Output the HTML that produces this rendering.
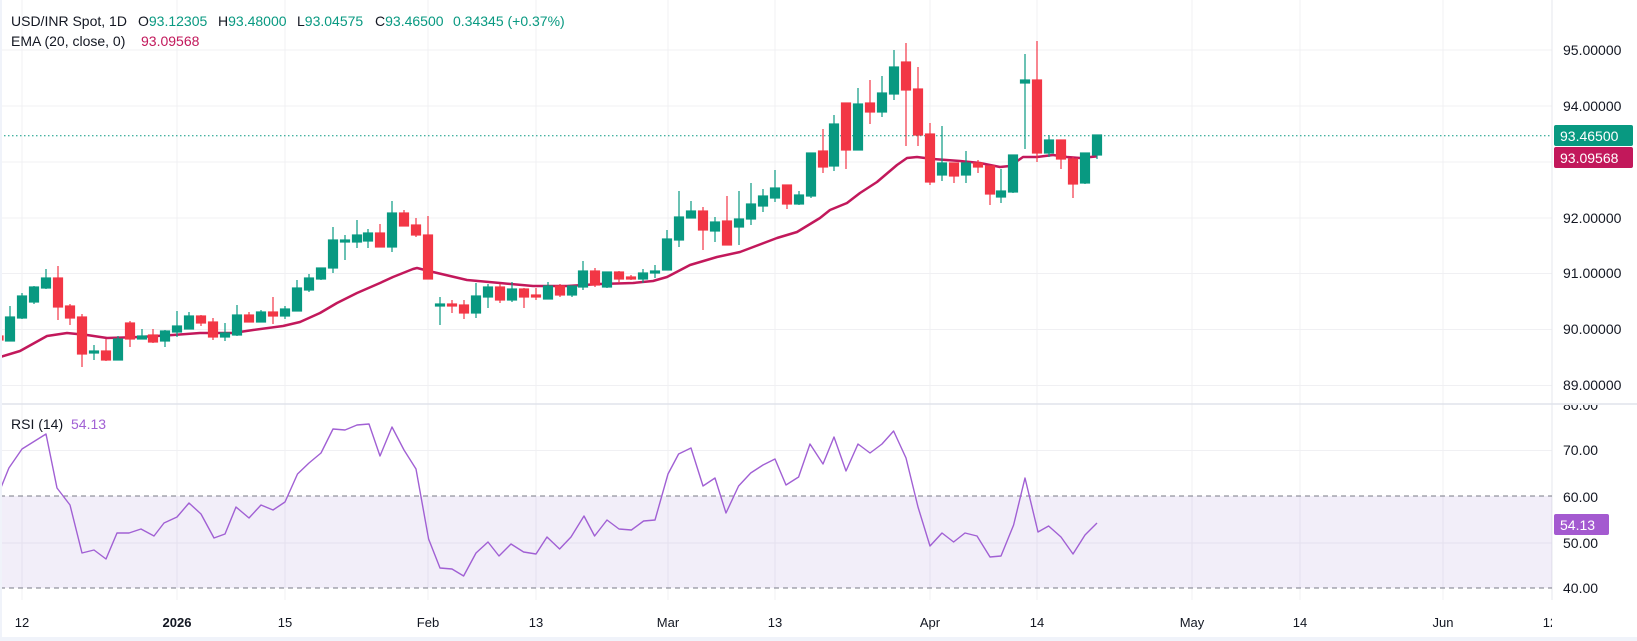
<!DOCTYPE html>
<html><head><meta charset="utf-8"><style>
html,body{margin:0;padding:0;background:#fff;}
body{width:1637px;height:641px;overflow:hidden;position:relative;font-family:"Liberation Sans",sans-serif;}
svg{position:absolute;left:0;top:0;}
.t{font-family:"Liberation Sans",sans-serif;}
</style></head><body>
<svg width="1637" height="641" viewBox="0 0 1637 641" xmlns="http://www.w3.org/2000/svg">
<rect x="0" y="0" width="1637" height="641" fill="#fff"/>
<g stroke="#f0f0f3" stroke-width="1">
<line x1="22" y1="0" x2="22" y2="600"/><line x1="177" y1="0" x2="177" y2="600"/><line x1="285" y1="0" x2="285" y2="600"/>
<line x1="428" y1="0" x2="428" y2="600"/><line x1="536" y1="0" x2="536" y2="600"/><line x1="668" y1="0" x2="668" y2="600"/>
<line x1="775" y1="0" x2="775" y2="600"/><line x1="930" y1="0" x2="930" y2="600"/><line x1="1037" y1="0" x2="1037" y2="600"/>
<line x1="1192" y1="0" x2="1192" y2="600"/><line x1="1300" y1="0" x2="1300" y2="600"/><line x1="1443" y1="0" x2="1443" y2="600"/>
<line x1="0" y1="50" x2="1552" y2="50"/><line x1="0" y1="106" x2="1552" y2="106"/><line x1="0" y1="162" x2="1552" y2="162"/>
<line x1="0" y1="218" x2="1552" y2="218"/><line x1="0" y1="273.5" x2="1552" y2="273.5"/><line x1="0" y1="329.5" x2="1552" y2="329.5"/>
<line x1="0" y1="385.5" x2="1552" y2="385.5"/>
<line x1="0" y1="450.5" x2="1552" y2="450.5"/><line x1="0" y1="543" x2="1552" y2="543"/>
</g>
<line x1="1552" y1="0" x2="1552" y2="600" stroke="#e6e7ec"/>
<line x1="0" y1="404" x2="1637" y2="404" stroke="#e0e3eb" stroke-width="1.5"/>
<rect x="0" y="496" width="1552" height="92" fill="#7e57c2" fill-opacity="0.1"/>
<line x1="0" y1="496" x2="1552" y2="496" stroke="#787b86" stroke-dasharray="5,4"/>
<line x1="0" y1="588" x2="1552" y2="588" stroke="#787b86" stroke-dasharray="5,4"/>
<line x1="0" y1="135.7" x2="1552" y2="135.7" stroke="#089981" stroke-dasharray="1.5,2.5"/>
<polyline fill="none" stroke="#c2185b" stroke-width="2.5" stroke-linejoin="round" points="0,357 20,351 47,336 67,333 87,335 107,338 140,337 173,335 200,333 233,333 253,330 283,326 300,322 320,313 337,303 357,293 380,283 393,277 413,269 417,268 433,272 467,280 500,283 533,286 567,286 600,284 633,283 653,281 667,277 690,265 717,257 740,252 777,238 797,232 820,218 830,210 847,203 860,193 877,182 897,165 907,158 917,157 933,159 960,161 980,163 1000,167 1010,166 1023,157 1037,157 1053,155 1067,157 1080,158 1097,156.4"/>
<g stroke-width="1.2">
<g stroke="#089981" fill="#089981">
<line x1="10" y1="306" x2="10" y2="341"/><rect x="5.5" y="317" width="9" height="24"/>
<line x1="22" y1="293" x2="22" y2="319"/><rect x="17.5" y="296" width="9" height="22"/>
<line x1="34" y1="286" x2="34" y2="304"/><rect x="29.5" y="287" width="9" height="15"/>
<line x1="46" y1="269" x2="46" y2="289"/><rect x="41.5" y="278" width="9" height="10"/>
<line x1="94" y1="345" x2="94" y2="360"/><rect x="89.5" y="351" width="9" height="2"/>
<line x1="118" y1="336" x2="118" y2="360"/><rect x="113.5" y="339" width="9" height="21"/>
<line x1="142" y1="329" x2="142" y2="339"/><rect x="137.5" y="336" width="9" height="3"/>
<line x1="165" y1="330" x2="165" y2="347"/><rect x="160.5" y="331" width="9" height="10"/>
<line x1="177" y1="311" x2="177" y2="337"/><rect x="172.5" y="326" width="9" height="6"/>
<line x1="189" y1="312" x2="189" y2="329"/><rect x="184.5" y="316" width="9" height="13"/>
<line x1="225" y1="323" x2="225" y2="341"/><rect x="220.5" y="333" width="9" height="4"/>
<line x1="237" y1="305" x2="237" y2="336"/><rect x="232.5" y="315" width="9" height="20"/>
<line x1="261" y1="310" x2="261" y2="322"/><rect x="256.5" y="312" width="9" height="10"/>
<line x1="285" y1="306" x2="285" y2="319"/><rect x="280.5" y="309" width="9" height="7"/>
<line x1="297" y1="280" x2="297" y2="311"/><rect x="292.5" y="288" width="9" height="23"/>
<line x1="309" y1="274" x2="309" y2="292"/><rect x="304.5" y="278" width="9" height="12"/>
<line x1="321" y1="268" x2="321" y2="280"/><rect x="316.5" y="268" width="9" height="11"/>
<line x1="333" y1="227" x2="333" y2="273"/><rect x="328.5" y="240" width="9" height="28"/>
<line x1="345" y1="235" x2="345" y2="260"/><rect x="340.5" y="240" width="9" height="2"/>
<line x1="357" y1="220" x2="357" y2="248"/><rect x="352.5" y="235" width="9" height="7"/>
<line x1="368" y1="229" x2="368" y2="248"/><rect x="363.5" y="233" width="9" height="8"/>
<line x1="392" y1="201" x2="392" y2="252"/><rect x="387.5" y="213" width="9" height="34"/>
<line x1="440" y1="297" x2="440" y2="325"/><rect x="435.5" y="304" width="9" height="2"/>
<line x1="476" y1="283" x2="476" y2="318"/><rect x="471.5" y="296" width="9" height="17"/>
<line x1="488" y1="284" x2="488" y2="308"/><rect x="483.5" y="287" width="9" height="10"/>
<line x1="512" y1="282" x2="512" y2="302"/><rect x="507.5" y="289" width="9" height="11"/>
<line x1="548" y1="282" x2="548" y2="299"/><rect x="543.5" y="286" width="9" height="13"/>
<line x1="572" y1="286" x2="572" y2="297"/><rect x="567.5" y="286" width="9" height="9"/>
<line x1="583" y1="261" x2="583" y2="290"/><rect x="578.5" y="271" width="9" height="16"/>
<line x1="607" y1="272" x2="607" y2="288"/><rect x="602.5" y="272" width="9" height="15"/>
<line x1="643" y1="269" x2="643" y2="283"/><rect x="638.5" y="273" width="9" height="6"/>
<line x1="655" y1="265" x2="655" y2="278"/><rect x="650.5" y="271" width="9" height="2"/>
<line x1="667" y1="230" x2="667" y2="270"/><rect x="662.5" y="239" width="9" height="31"/>
<line x1="679" y1="191" x2="679" y2="247"/><rect x="674.5" y="217" width="9" height="23"/>
<line x1="691" y1="201" x2="691" y2="218"/><rect x="686.5" y="211" width="9" height="7"/>
<line x1="715" y1="217" x2="715" y2="242"/><rect x="710.5" y="222" width="9" height="9"/>
<line x1="739" y1="191" x2="739" y2="245"/><rect x="734.5" y="219" width="9" height="8"/>
<line x1="751" y1="183" x2="751" y2="225"/><rect x="746.5" y="204" width="9" height="15"/>
<line x1="763" y1="189" x2="763" y2="212"/><rect x="758.5" y="196" width="9" height="10"/>
<line x1="775" y1="170" x2="775" y2="202"/><rect x="770.5" y="188" width="9" height="10"/>
<line x1="799" y1="191" x2="799" y2="205"/><rect x="794.5" y="195" width="9" height="9"/>
<line x1="811" y1="153" x2="811" y2="198"/><rect x="806.5" y="153" width="9" height="43"/>
<line x1="834" y1="115" x2="834" y2="171"/><rect x="829.5" y="124" width="9" height="42"/>
<line x1="858" y1="88" x2="858" y2="150"/><rect x="853.5" y="104" width="9" height="46"/>
<line x1="882" y1="76" x2="882" y2="117"/><rect x="877.5" y="93" width="9" height="19"/>
<line x1="894" y1="50" x2="894" y2="100"/><rect x="889.5" y="67" width="9" height="27"/>
<line x1="942" y1="126" x2="942" y2="181"/><rect x="937.5" y="163" width="9" height="12"/>
<line x1="966" y1="151" x2="966" y2="183"/><rect x="961.5" y="163" width="9" height="12"/>
<line x1="1001" y1="169" x2="1001" y2="203"/><rect x="996.5" y="191" width="9" height="6"/>
<line x1="1013" y1="155" x2="1013" y2="193"/><rect x="1008.5" y="155" width="9" height="37"/>
<line x1="1025" y1="54" x2="1025" y2="149"/><rect x="1020.5" y="80" width="9" height="3"/>
<line x1="1049" y1="135" x2="1049" y2="157"/><rect x="1044.5" y="140" width="9" height="13"/>
<line x1="1085" y1="153" x2="1085" y2="184"/><rect x="1080.5" y="153" width="9" height="30"/>
<line x1="1097" y1="135" x2="1097" y2="159"/><rect x="1092.5" y="135" width="9" height="20"/>
</g>
<g stroke="#f23645" fill="#f23645">
<rect x="0" y="336" width="3" height="4"/>
<line x1="58" y1="266" x2="58" y2="320"/><rect x="53.5" y="278" width="9" height="29"/>
<line x1="70" y1="304" x2="70" y2="325"/><rect x="65.5" y="306" width="9" height="12"/>
<line x1="82" y1="314" x2="82" y2="367"/><rect x="77.5" y="317" width="9" height="37"/>
<line x1="106" y1="339" x2="106" y2="361"/><rect x="101.5" y="351" width="9" height="9"/>
<line x1="130" y1="321" x2="130" y2="347"/><rect x="125.5" y="323" width="9" height="16"/>
<line x1="153" y1="329" x2="153" y2="343"/><rect x="148.5" y="335" width="9" height="7"/>
<line x1="201" y1="315" x2="201" y2="326"/><rect x="196.5" y="316" width="9" height="7"/>
<line x1="213" y1="318" x2="213" y2="340"/><rect x="208.5" y="322" width="9" height="15"/>
<line x1="249" y1="312" x2="249" y2="322"/><rect x="244.5" y="315" width="9" height="7"/>
<line x1="273" y1="297" x2="273" y2="324"/><rect x="268.5" y="312" width="9" height="4"/>
<line x1="380" y1="224" x2="380" y2="247"/><rect x="375.5" y="233" width="9" height="14"/>
<line x1="404" y1="210" x2="404" y2="226"/><rect x="399.5" y="213" width="9" height="13"/>
<line x1="416" y1="218" x2="416" y2="237"/><rect x="411.5" y="225" width="9" height="10"/>
<line x1="428" y1="216" x2="428" y2="279"/><rect x="423.5" y="235" width="9" height="44"/>
<line x1="452" y1="300" x2="452" y2="313"/><rect x="447.5" y="304" width="9" height="2"/>
<line x1="464" y1="300" x2="464" y2="319"/><rect x="459.5" y="305" width="9" height="8"/>
<line x1="500" y1="284" x2="500" y2="303"/><rect x="495.5" y="287" width="9" height="13"/>
<line x1="524" y1="288" x2="524" y2="308"/><rect x="519.5" y="289" width="9" height="8"/>
<line x1="536" y1="288" x2="536" y2="300"/><rect x="531.5" y="295" width="9" height="2"/>
<line x1="560" y1="284" x2="560" y2="297"/><rect x="555.5" y="286" width="9" height="9"/>
<line x1="595" y1="268" x2="595" y2="287"/><rect x="590.5" y="271" width="9" height="14"/>
<line x1="619" y1="271" x2="619" y2="283"/><rect x="614.5" y="272" width="9" height="7"/>
<line x1="631" y1="275" x2="631" y2="280"/><rect x="626.5" y="277" width="9" height="2"/>
<line x1="703" y1="207" x2="703" y2="250"/><rect x="698.5" y="211" width="9" height="19"/>
<line x1="727" y1="196" x2="727" y2="245"/><rect x="722.5" y="221" width="9" height="24"/>
<line x1="787" y1="185" x2="787" y2="209"/><rect x="782.5" y="185" width="9" height="19"/>
<line x1="823" y1="129" x2="823" y2="173"/><rect x="818.5" y="151" width="9" height="16"/>
<line x1="846" y1="103" x2="846" y2="169"/><rect x="841.5" y="103" width="9" height="47"/>
<line x1="870" y1="80" x2="870" y2="124"/><rect x="865.5" y="103" width="9" height="9"/>
<line x1="906" y1="43" x2="906" y2="146"/><rect x="901.5" y="62" width="9" height="28"/>
<line x1="918" y1="67" x2="918" y2="146"/><rect x="913.5" y="89" width="9" height="46"/>
<line x1="930" y1="123" x2="930" y2="185"/><rect x="925.5" y="134" width="9" height="48"/>
<line x1="954" y1="163" x2="954" y2="183"/><rect x="949.5" y="163" width="9" height="13"/>
<line x1="978" y1="160" x2="978" y2="173"/><rect x="973.5" y="163" width="9" height="4"/>
<line x1="990" y1="166" x2="990" y2="205"/><rect x="985.5" y="166" width="9" height="28"/>
<line x1="1037" y1="41" x2="1037" y2="162"/><rect x="1032.5" y="80" width="9" height="73"/>
<line x1="1061" y1="140" x2="1061" y2="169"/><rect x="1056.5" y="140" width="9" height="19"/>
<line x1="1073" y1="157" x2="1073" y2="198"/><rect x="1068.5" y="159" width="9" height="25"/>
</g>
</g>
<polyline fill="none" stroke="#a160d4" stroke-width="1.4" stroke-linejoin="round" points="0,490 8.9,468 22,449 46,434 57,488 70,505 82,553 94,550 106,559 117,533 129,533 141,529 154,536 164,523 177,517 189,503 201,514 214,538 225,534 236,507 249,518 261,505 273,510 285,502 297.5,474 309,463 321,453 333,429 345,430 357,425 369,424 380,456 392,427 404,450 416,469 428.6,539 440,568 452,569 463.6,576 476,553 488,542 499,556 511,544 523.6,552 536,554 547,537 559.6,549 571,537 584,516 594.6,536 607,520 619,529 631.4,530 643.6,521 655,520 668,474 678.6,454 691,448 703,486 715,478 726,513 738.6,486 750.7,473 763,465 775,459 786,485 798.6,477 810,444 823,464 834,437 846,471 858,444 870,453 882,444 893.6,431 906,458 918,507 930,546 942,533 953.6,542 965,533 977,536 990,557 1001,556 1013.6,525 1025,478 1038,532 1048.6,526 1061,537 1073,554 1085,535 1097,523"/>
<g class="t" font-size="14" fill="#131722">
<text x="1563" y="55">95.00000</text><text x="1563" y="111">94.00000</text>
<text x="1563" y="223">92.00000</text><text x="1563" y="278">91.00000</text>
<text x="1563" y="334">90.00000</text><text x="1563" y="390">89.00000</text>
<text x="1563" y="455">70.00</text><text x="1563" y="502">60.00</text>
<text x="1563" y="548">50.00</text><text x="1563" y="593">40.00</text>
</g>
<svg x="1556" y="405" width="80" height="12"><text x="7" y="5" class="t" font-size="14" fill="#131722">80.00</text></svg>
<rect x="1554" y="125" width="79" height="21" rx="2" fill="#089981"/>
<text x="1560" y="141" class="t" font-size="14" fill="#fff">93.46500</text>
<rect x="1554" y="147" width="79" height="21" rx="2" fill="#c2185b"/>
<text x="1560" y="163" class="t" font-size="14" fill="#fff">93.09568</text>
<rect x="1554" y="514" width="55" height="21" rx="2" fill="#a45ad0"/>
<text x="1560" y="530" class="t" font-size="14" fill="#fff">54.13</text>
<g class="t" font-size="13" fill="#131722" text-anchor="middle">
<text x="22" y="627">12</text><text x="177" y="627" font-weight="bold">2026</text><text x="285" y="627">15</text>
<text x="428" y="627">Feb</text><text x="536" y="627">13</text><text x="668" y="627">Mar</text>
<text x="775" y="627">13</text><text x="930" y="627">Apr</text><text x="1037" y="627">14</text>
<text x="1192" y="627">May</text><text x="1300" y="627">14</text><text x="1443" y="627">Jun</text>
</g>
<svg x="1500" y="600" width="52" height="40"><text x="50" y="27" class="t" font-size="13" fill="#131722" text-anchor="middle">12</text></svg>
<rect x="0" y="637" width="1637" height="4" fill="#f0f3fa"/>
<rect x="0" y="0" width="2" height="641" fill="#f0f3fa"/>
<g class="t" font-size="14">
<text x="11" y="26" fill="#131722">USD/INR Spot, 1D</text>
<text x="138" y="26" fill="#131722">O<tspan fill="#089981">93.12305</tspan></text>
<text x="218" y="26" fill="#131722">H<tspan fill="#089981">93.48000</tspan></text>
<text x="297" y="26" fill="#131722">L<tspan fill="#089981">93.04575</tspan></text>
<text x="375" y="26" fill="#131722">C<tspan fill="#089981">93.46500</tspan></text>
<text x="453" y="26" fill="#089981">0.34345 (+0.37%)</text>
<text x="11" y="46" fill="#131722">EMA (20, close, 0)</text>
<text x="141" y="46" fill="#c2185b">93.09568</text>
<text x="11" y="429" fill="#131722">RSI (14)</text>
<text x="71" y="429" fill="#a160d4">54.13</text>
</g>
</svg>
</body></html>
